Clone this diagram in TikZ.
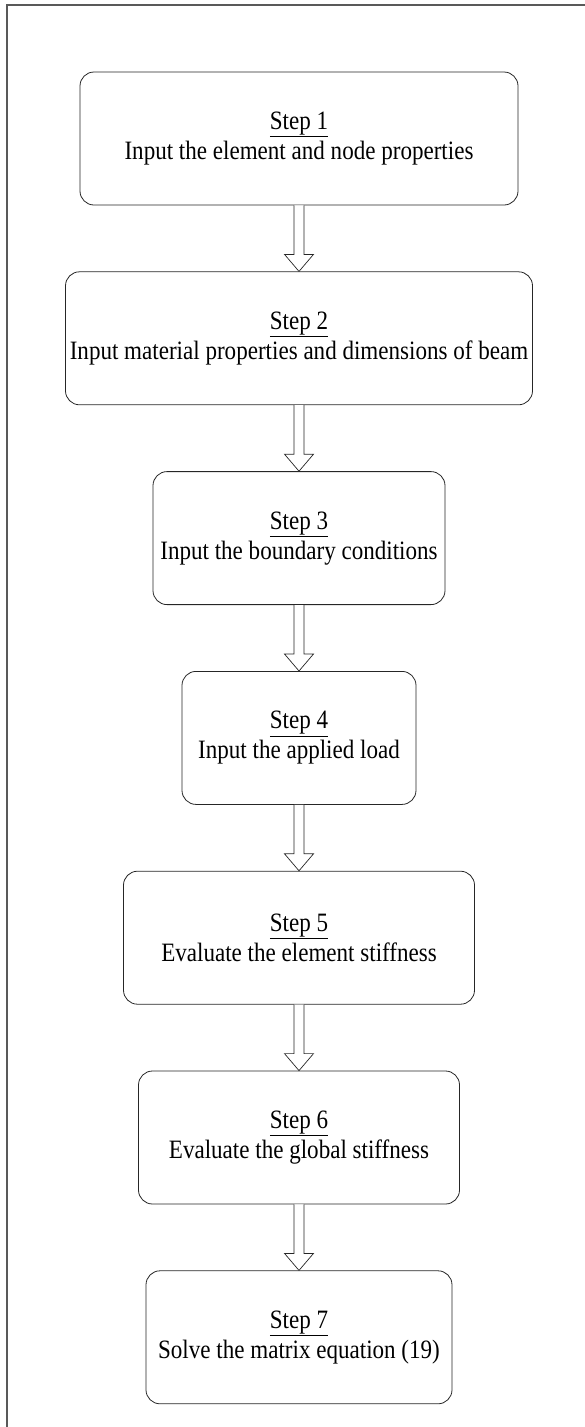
\documentclass[tikz,border=0pt]{standalone}
\usepackage{fontspec}
\setmainfont{Liberation Serif}[FakeStretch=0.87]
\usetikzlibrary{calc}
\usetikzlibrary{positioning}

\begin{document}
\begin{tikzpicture}[x=1pt, y=1pt,
stepbox/.style={
  draw=black!85, line width=0.8pt, rounded corners=14pt,
  align=center, inner sep=0pt,
  minimum height=133pt,
  font=\fontsize{26.5}{30}\selectfont
},
blockarrow/.style={draw=black!85, line width=0.7pt, fill=white, line join=miter}]
\useasboundingbox (0,0) rectangle (584,-1427);
\draw[line width=1.6pt, black!65] (7,-5) rectangle (600,-1440);
\node (s1) [stepbox, minimum width=438pt] at (299,-138.5) {\underline{Step 1}\\Input the element and node properties};
\node (s2) [stepbox, minimum width=467pt, below=66pt of s1] {\underline{Step 2}\\Input material properties and dimensions of beam};
\node (s3) [stepbox, minimum width=292pt, below=66pt of s2] {\underline{Step 3}\\Input the boundary conditions};
\node (s4) [stepbox, minimum width=234pt, below=66pt of s3] {\underline{Step 4}\\Input the applied load};
\node (s5) [stepbox, minimum width=351pt, below=66pt of s4] {\underline{Step 5}\\Evaluate the element stiffness};
\node (s6) [stepbox, minimum width=321pt, below=66pt of s5] {\underline{Step 6}\\Evaluate the global stiffness};
\node (s7) [stepbox, minimum width=306pt, below=66pt of s6] {\underline{Step 7}\\Solve the matrix equation (19)};
% hollow block arrows between the steps
\foreach \a/\b in {s1/s2, s2/s3, s3/s4, s4/s5, s5/s6, s6/s7} {
  \draw[blockarrow] ($(\a.south)+(-5,0)$) -- ($(\b.north)+(-5,17)$) -- ++(-9.5,0)
    -- (\b.north) -- ++(14.5,17) -- ++(-9.5,0) -- ($(\a.south)+(5,0)$);
}
\end{tikzpicture}
\end{document}
